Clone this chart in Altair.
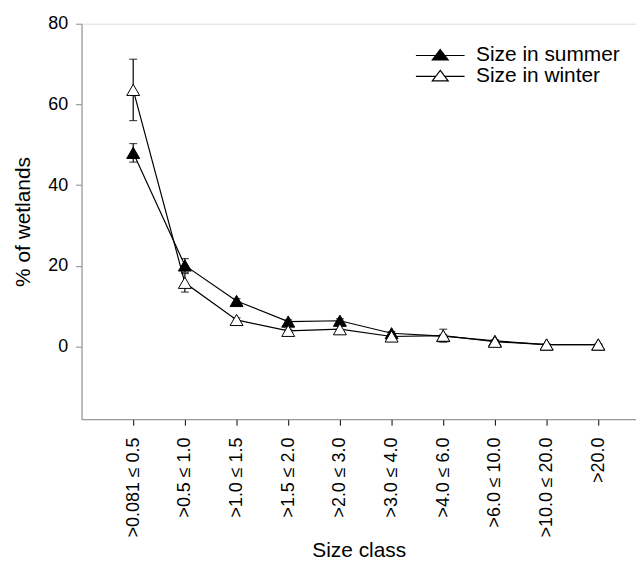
import altair as alt
import pandas as pd

categories = [">0.081 ≤ 0.5", ">0.5 ≤ 1.0", ">1.0 ≤ 1.5", ">1.5 ≤ 2.0", ">2.0 ≤ 3.0",
              ">3.0 ≤ 4.0", ">4.0 ≤ 6.0", ">6.0 ≤ 10.0", ">10.0 ≤ 20.0", ">20.0"]
series_names = ["Size in summer", "Size in winter"]
summer = [48.0, 20.1, 11.3, 6.2, 6.4, 3.3, 2.6, 1.4, 0.5, 0.5]
summer_err = [2.3, 1.7, 0.6, 0.4, 0.5, 0.4, 0.4, 0.3, 0.1, 0.1]
winter = [63.6, 15.8, 6.6, 3.9, 4.3, 2.5, 2.7, 1.2, 0.5, 0.5]
winter_err = [7.6, 2.3, 0.5, 0.4, 1.0, 0.4, 1.6, 0.3, 0.1, 0.1]
y_ticks = [0, 20, 40, 60, 80]

rows = []
for name, vals, errs in [(series_names[0], summer, summer_err), (series_names[1], winter, winter_err)]:
    for i, (v, e) in enumerate(zip(vals, errs)):
        rows.append({"series": name, "pos": i + 1, "cat": categories[i],
                     "value": v, "lo": v - e, "hi": v + e})
df = pd.DataFrame(rows)

label_js = "[" + ",".join("'" + c + "'" for c in categories) + "]"

FONT = "Liberation Sans"

x_enc = alt.X("pos:Q",
              scale=alt.Scale(domain=[0, 10.73], nice=False, zero=False),
              axis=alt.Axis(values=list(range(1, 11)), labelExpr=label_js + "[datum.value-1]",
                            labelAngle=-90, title="Size class", grid=False,
                            tickColor="black", domainColor="#888888", tickSize=6,
                            labelPadding=12, labelFontSize=18, titleFontSize=21,
                            titlePadding=3, labelColor="black", titleColor="black",
                            titleFontWeight="normal"))
y_scale = alt.Scale(domain=[-18, 80], nice=False, zero=False)
y_axis = alt.Axis(values=y_ticks, title="% of wetlands", grid=False,
                  tickColor="#888888", domainColor="#888888", tickSize=6,
                  labelPadding=8, labelFontSize=18, titleFontSize=21,
                  titlePadding=14, labelColor="black", titleColor="black",
                  titleFontWeight="normal")

base = alt.Chart(df)

lines = base.mark_line(color="black", strokeWidth=1.2).encode(
    x=x_enc, y=alt.Y("value:Q", scale=y_scale, axis=y_axis), detail="series:N")

err_rule = base.mark_rule(color="black", strokeWidth=1.2).encode(
    x="pos:Q", y="lo:Q", y2="hi:Q")
err_lo = base.mark_tick(color="black", orient="horizontal", size=8, thickness=1.2).encode(
    x="pos:Q", y="lo:Q")
err_hi = base.mark_tick(color="black", orient="horizontal", size=8, thickness=1.2).encode(
    x="pos:Q", y="hi:Q")

legend_path = "M-2.45,0H-0.46M0.46,0H2.45M0,-0.6L0.8,0.45L-0.8,0.45Z"

points = base.mark_point(shape="triangle-up", filled=True, stroke="black",
                         strokeWidth=1, size=170, opacity=1).encode(
    x="pos:Q", y="value:Q",
    fill=alt.Fill("series:N",
                  scale=alt.Scale(domain=series_names, range=["black", "white"]),
                  legend=alt.Legend(title=None, orient="none", legendX=350, legendY=21,
                                    symbolType=legend_path, symbolSize=400,
                                    symbolStrokeColor="black", symbolStrokeWidth=1.2,
                                    labelFontSize=21, labelOffset=25, rowPadding=-1,
                                    labelColor="black", labelFont=FONT, padding=0)))

chart = alt.layer(lines, err_rule, err_lo, err_hi, points).properties(
    width=558, height=398,
    padding={"left": 74, "top": 14, "right": 0, "bottom": 160},
    autosize=alt.AutoSizeParams(type="none"),
).configure_view(stroke=None).configure(font=FONT).configure_axis(
    labelFont=FONT, titleFont=FONT)

chart.save("out.html", embed_options={"renderer": "svg", "actions": False})
